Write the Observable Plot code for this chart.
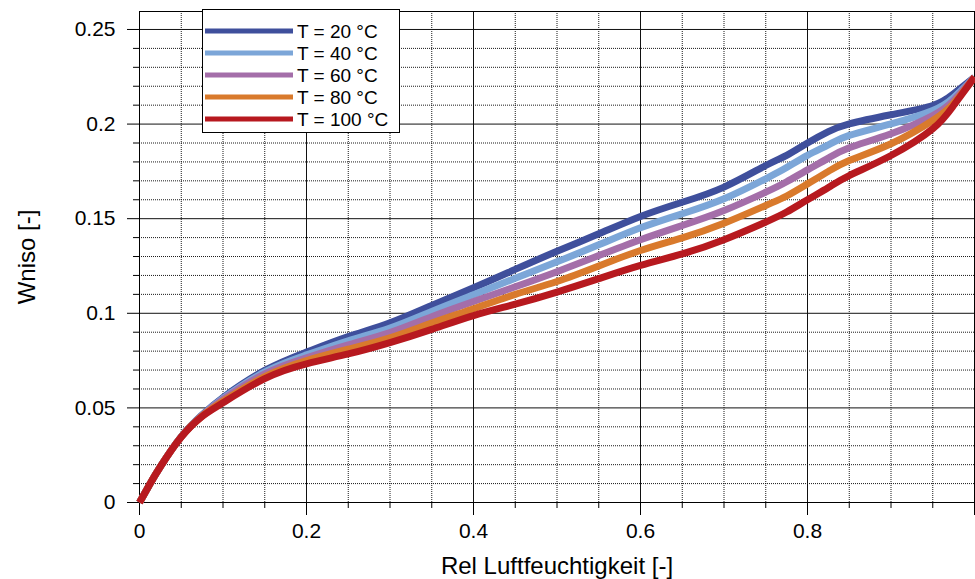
<!DOCTYPE html>
<html>
<head>
<meta charset="utf-8">
<script src="https://cdn.jsdelivr.net/npm/d3@7"></script>
<script src="https://cdn.jsdelivr.net/npm/@observablehq/plot@0.6"></script>
<style>
  html, body { margin: 0; padding: 0; background: #fff; }
  #chart { position: relative; width: 975px; height: 579px; }
</style>
</head>
<body>
<div id="chart"></div>
<script>
// ---- data ----
const rh = [0, 0.0125, 0.025, 0.05, 0.075, 0.1, 0.15, 0.2, 0.25, 0.3, 0.35, 0.4, 0.45, 0.5, 0.55, 0.6, 0.65, 0.7, 0.75, 0.775, 0.8, 0.825, 0.85, 0.9, 0.95, 0.975, 1.0];
const T20  = [0, 0.0098, 0.0189, 0.0348, 0.0463, 0.0555, 0.0698, 0.0795, 0.0877, 0.0950, 0.1042, 0.1135, 0.1232, 0.1328, 0.1420, 0.1512, 0.1587, 0.1667, 0.1781, 0.1835, 0.1900, 0.1960, 0.2001, 0.2049, 0.2098, 0.2160, 0.2248];
const T40  = [0, 0.0098, 0.0189, 0.0348, 0.0461, 0.0550, 0.0690, 0.0780, 0.0855, 0.0922, 0.1010, 0.1098, 0.1185, 0.1272, 0.1362, 0.1452, 0.1526, 0.1605, 0.1711, 0.1770, 0.1835, 0.1890, 0.1940, 0.2001, 0.2072, 0.2140, 0.2248];
const T60  = [0, 0.0098, 0.0189, 0.0347, 0.0459, 0.0545, 0.0680, 0.0765, 0.0833, 0.0898, 0.0982, 0.1062, 0.1140, 0.1220, 0.1305, 0.1389, 0.1464, 0.1543, 0.1640, 0.1695, 0.1758, 0.1820, 0.1875, 0.1949, 0.2045, 0.2125, 0.2248];
const T80  = [0, 0.0098, 0.0189, 0.0347, 0.0457, 0.0535, 0.0665, 0.0750, 0.0810, 0.0870, 0.0948, 0.1024, 0.1100, 0.1168, 0.1250, 0.1332, 0.1399, 0.1476, 0.1570, 0.1620, 0.1684, 0.1750, 0.1808, 0.1896, 0.2019, 0.2110, 0.2248];
const T100 = [0, 0.0098, 0.0189, 0.0346, 0.0455, 0.0527, 0.0655, 0.0733, 0.0785, 0.0845, 0.0915, 0.0988, 0.1048, 0.1112, 0.1183, 0.1253, 0.1314, 0.1389, 0.1482, 0.1535, 0.1600, 0.1665, 0.1728, 0.1834, 0.1975, 0.2098, 0.2248];
const seriesNames = ["T = 20 °C", "T = 40 °C", "T = 60 °C", "T = 80 °C", "T = 100 °C"];
const seriesValues = [T20, T40, T60, T80, T100];
const seriesColors = ["#3f4f9c", "#7ca6d8", "#a46ea9", "#d97a2c", "#b7191f"];

const xMajor = [0, 0.2, 0.4, 0.6, 0.8];
const xMajorLabels = ["0", "0.2", "0.4", "0.6", "0.8"];
const xMinor = [0.05, 0.1, 0.15, 0.25, 0.3, 0.35, 0.45, 0.5, 0.55, 0.65, 0.7, 0.75, 0.85, 0.9, 0.95];
const yMajor = [0, 0.05, 0.1, 0.15, 0.2, 0.25];
const yMajorLabels = ["0", "0.05", "0.1", "0.15", "0.2", "0.25"];
const yMinor = [0.01,0.02,0.03,0.04,0.06,0.07,0.08,0.09,0.11,0.12,0.13,0.14,0.16,0.17,0.18,0.19,0.21,0.22,0.23,0.24];

const xLabel = "Rel Luftfeuchtigkeit [-]";
const yLabel = "Wniso [-]";

// ---- table ----
const rows = [];
seriesNames.forEach((name, i) => {
  rh.forEach((x, j) => rows.push({series: name, x, y: seriesValues[i][j]}));
});

const dotted = "1,1";

const chart = Plot.plot({
  width: 975,
  height: 579,
  marginLeft: 139,
  marginRight: 1,
  marginTop: 11,
  marginBottom: 77,
  style: {fontFamily: "'Liberation Sans', Arial, sans-serif", fontSize: "21px", background: "#fff", color: "#000"},
  x: {domain: [0, 1]},
  y: {domain: [0, 0.2595]},
  color: {domain: seriesNames, range: seriesColors},
  marks: [
    Plot.gridX(xMinor, {stroke: "#000", strokeOpacity: 0.9, strokeDasharray: dotted, strokeWidth: 1}),
    Plot.gridY(yMinor, {stroke: "#000", strokeOpacity: 0.9, strokeDasharray: dotted, strokeWidth: 1}),
    Plot.gridX([0.2, 0.4, 0.6, 0.8], {stroke: "#111", strokeOpacity: 1, strokeWidth: 1}),
    Plot.gridY([0.05, 0.1, 0.15, 0.2, 0.25], {stroke: "#111", strokeOpacity: 1, strokeWidth: 1}),
    Plot.frame({stroke: "#000", strokeWidth: 1}),
    Plot.axisX(xMajor, {tickSize: 13, tickPadding: 8, label: null, fontSize: 21,
      tickFormat: d => xMajorLabels[xMajor.indexOf(d)]}),
    Plot.axisX([1], {tickSize: 13, text: null, label: null}),
    Plot.axisX(xMinor, {tickSize: 6, text: null, label: null}),
    Plot.axisY(yMajor, {tickSize: 12, tickPadding: 12, label: null, fontSize: 21,
      tickFormat: d => yMajorLabels[yMajor.indexOf(d)]}),
    Plot.axisY(yMinor, {tickSize: 6, text: null, label: null}),
    Plot.line(rows, {x: "x", y: "y", z: "series", stroke: "series", strokeWidth: 7, curve: "natural", strokeLinecap: "butt"}),
    Plot.text([xLabel], {frameAnchor: "bottom", lineAnchor: "middle", textAnchor: "middle", dy: 64, fontSize: 24, fill: "#000"}),
    Plot.text([yLabel], {frameAnchor: "left", lineAnchor: "middle", textAnchor: "middle", dx: -112, rotate: -90, fontSize: 24, fill: "#000"})
  ]
});

document.getElementById("chart").appendChild(chart);

// ---- legend (inside the SVG) ----
const svg = d3.select(chart);
const lg = svg.append("g")
  .attr("font-family", "'Liberation Sans', Arial, sans-serif")
  .attr("font-size", 19)
  .attr("text-anchor", "start");
lg.append("rect").attr("x", 202.5).attr("y", 9.5).attr("width", 197).attr("height", 123)
  .attr("fill", "#fff").attr("stroke", "#000").attr("stroke-width", 1);
seriesNames.forEach((name, i) => {
  const cy = 31 + i * 22;
  lg.append("line").attr("x1", 205).attr("x2", 293).attr("y1", cy).attr("y2", cy)
    .attr("stroke", seriesColors[i]).attr("stroke-width", 5);
  lg.append("text").attr("x", 297).attr("y", cy).attr("dy", "0.35em")
    .attr("text-anchor", "start").attr("fill", "#000").text(name);
});
</script>
</body>
</html>
